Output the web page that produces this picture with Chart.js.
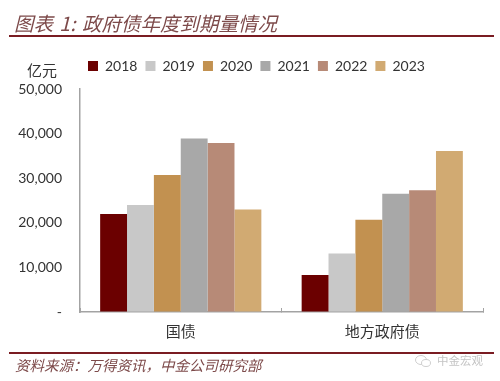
<!DOCTYPE html>
<html>
<head>
<meta charset="utf-8">
<script src="https://cdn.jsdelivr.net/npm/chart.js@4"></script>
<style>
  html, body { margin: 0; padding: 0; background: #fff; }
  #box { position: relative; width: 500px; height: 381px; overflow: hidden; font-family: "Noto Sans CJK SC", sans-serif; }
  #grafico { position: absolute; left: 0; top: 0; }
  .texto { position: absolute; white-space: nowrap; }
  .linha { position: absolute; left: 9px; width: 485px; height: 2px; background: #7a1c22; }
  #titulo { left: 14px; top: 9px; font-size: 19.5px; line-height: 28px; font-style: italic; color: #7d4a4a; word-spacing: 2px; }
  #unidade { left: 27px; top: 60px; font-size: 15px; line-height: 20px; color: #333; }
  #fonte { left: 15px; top: 355px; font-size: 14.5px; line-height: 20px; font-style: italic; color: #7d4a4a; }
  #marca { left: 437px; top: 351px; font-size: 11.5px; line-height: 18px; color: #c4c4c4; }
  #icone { position: absolute; left: 414px; top: 354px; }
</style>
</head>
<body>
<div id="box">
  <canvas id="grafico" width="500" height="381"></canvas>
  <div class="texto" id="titulo">图表 1:&nbsp;政府债年度到期量情况</div>
  <div class="linha" style="top:35px"></div>
  <div class="texto" id="unidade">亿元</div>
  <div class="linha" style="top:352px"></div>
  <div class="texto" id="fonte">资料来源：万得资讯，中金公司研究部</div>
  <svg id="icone" width="18" height="14" viewBox="0 0 18 14">
    <ellipse cx="7" cy="6" rx="5.5" ry="4.5" fill="none" stroke="#cfcfcf"/>
    <ellipse cx="12" cy="9" rx="4.5" ry="3.5" fill="#fff" stroke="#cfcfcf"/>
  </svg>
  <div class="texto" id="marca">中金宏观</div>
</div>
<script>
const categorias = ['国债', '地方政府债'];
const anos = ['2018', '2019', '2020', '2021', '2022', '2023'];
const guozhai = [22000, 24000, 30700, 38900, 37900, 23000];
const difang = [8300, 13100, 20700, 26500, 27300, 36100];
const cores = ['#6b0000', '#c8c8c8', '#c29150', '#a8a8a8', '#b78a77', '#d1aa72'];
const rotulosY = ['-', '10,000', '20,000', '30,000', '40,000', '50,000'];

const corEixo = '#a3a3a3';
const fonteNum = { family: 'Lato, sans-serif', size: 14 };

// the legend sits over the plot, not centred on the canvas
const moveLegenda = {
  id: 'moveLegenda',
  afterLayout(chart) {
    chart.legend.left = 80;
    chart.legend.top -= 6;
  }
};

const grafico = new Chart(document.querySelector('#grafico'), {
  type: 'bar',
  data: {
    labels: categorias,
    datasets: anos.map((ano, i) => ({
      label: ano,
      data: [guozhai[i], difang[i]],
      backgroundColor: cores[i]
    }))
  },
  options: {
    responsive: false,
    animation: false,
    layout: { padding: { left: 10, right: 17, top: 57, bottom: 36 } },
    datasets: { bar: { categoryPercentage: 0.8, barPercentage: 1 } },
    plugins: {
      tooltip: { enabled: false },
      legend: {
        position: 'top',
        align: 'start',
        labels: { boxWidth: 10, boxHeight: 10, padding: 8, color: '#333', font: fonteNum }
      }
    },
    scales: {
      x: {
        border: { color: corEixo, width: 1.5 },
        grid: { drawOnChartArea: false, color: corEixo, tickLength: -4, offset: true },
        ticks: { color: '#333', padding: 14, font: { family: '"Noto Sans CJK SC", sans-serif', size: 15 } },
        afterFit: scale => { scale.height = 33; }
      },
      y: {
        min: 0,
        max: 50000,
        border: { color: corEixo, width: 1.5 },
        grid: { drawOnChartArea: false, drawTicks: false },
        ticks: {
          stepSize: 10000,
          padding: 18,
          color: '#333',
          font: fonteNum,
          callback: (valor, i) => rotulosY[i]
        },
        afterFit: scale => { scale.width = 70; }
      }
    }
  },
  plugins: [moveLegenda]
});
</script>
</body>
</html>
